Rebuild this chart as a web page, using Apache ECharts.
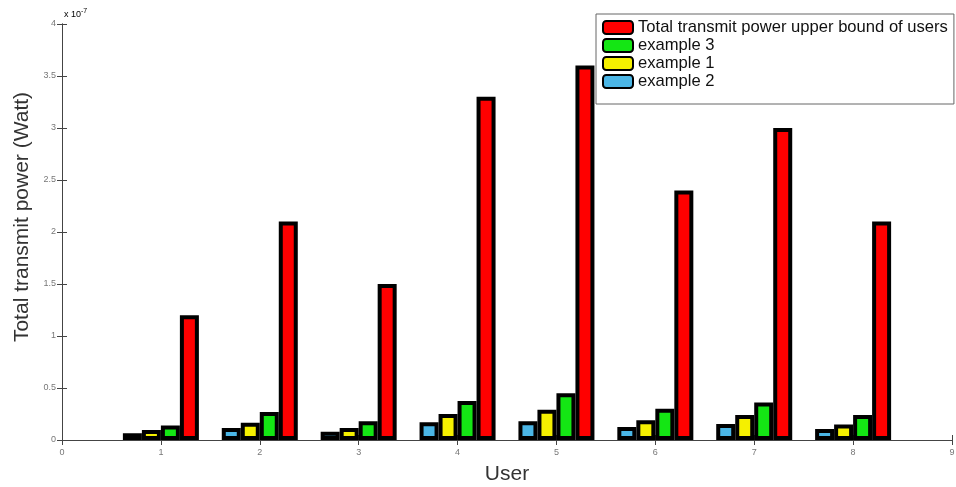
<!DOCTYPE html>
<html><head><meta charset="utf-8">
<script src="https://cdn.jsdelivr.net/npm/echarts@6/dist/echarts.min.js"></script>
<style>html,body{margin:0;padding:0;background:#fff}#c{width:956px;height:487px}</style>
</head><body><div id="c"></div>
<script>
// values in units of 1e-7 W
const users = [1, 2, 3, 4, 5, 6, 7, 8];
const example2 = [0.065, 0.115, 0.08, 0.17, 0.18, 0.125, 0.155, 0.105];
const example1 = [0.095, 0.165, 0.115, 0.25, 0.29, 0.19, 0.24, 0.15];
const example3 = [0.14, 0.27, 0.18, 0.375, 0.45, 0.30, 0.36, 0.24];
const upperBound = [1.2, 2.1, 1.5, 3.3, 3.6, 2.4, 3.0, 2.1];
const seriesNames = ['example 2', 'example 1', 'example 3', 'Total transmit power upper bound of users'];
const legendOrder = ['Total transmit power upper bound of users', 'example 3', 'example 1', 'example 2'];
const colors = ['#4bb6e6', '#f5f000', '#14e614', '#ff0000'];
const allSeries = [example2, example1, example3, upperBound];

const font = 'Liberation Sans, Arial, sans-serif';
const chart = echarts.init(document.getElementById('c'));
const axisLine = {lineStyle: {color: '#444', width: 1}};
const tick = {inside: true, length: 5, lineStyle: {color: '#444'}};
chart.setOption({
  animation: false,
  backgroundColor: '#fff',
  grid: {left: 62, right: 4, top: 24, bottom: 47, containLabel: false, outerBoundsMode: 'none'},
  legend: {
    data: legendOrder, orient: 'vertical', left: 596, top: 14,
    padding: [5, 6, 14, 6], itemGap: 1, itemWidth: 30, itemHeight: 13,
    backgroundColor: '#fff', borderColor: '#666', borderWidth: 1,
    textStyle: {fontFamily: font, fontSize: 16.6, color: '#111', lineHeight: 17}
  },
  xAxis: [{
    type: 'value', min: 0, max: 9, interval: 1, position: 'bottom',
    name: 'User', nameLocation: 'middle', nameGap: 24,
    nameTextStyle: {fontFamily: font, fontSize: 21, color: '#333'},
    axisLine: axisLine, axisTick: tick, splitLine: {show: false},
    axisLabel: {fontFamily: font, fontSize: 9, color: '#777', margin: 8}
  }, {
    type: 'value', min: 0, max: 9, interval: 1, position: 'top',
    axisLine: axisLine, axisTick: tick, splitLine: {show: false}, axisLabel: {show: false}
  }],
  yAxis: [{
    type: 'value', min: 0, max: 4, interval: 0.5, position: 'left',
    name: 'Total transmit power (Watt)', nameLocation: 'middle', nameGap: 25,
    nameTextStyle: {fontFamily: font, fontSize: 21, color: '#333', padding: [0, 0, 0, 30]},
    axisLine: axisLine, axisTick: tick, splitLine: {show: false},
    axisLabel: {fontFamily: font, fontSize: 9, color: '#777', margin: 6}
  }, {
    type: 'value', min: 0, max: 4, interval: 0.5, position: 'right',
    axisLine: axisLine, axisTick: tick, splitLine: {show: false}, axisLabel: {show: false}
  }],
  graphic: [{
    type: 'text', left: 64, top: 8,
    style: {text: '{a|x 10}{b|-7}', rich: {
      a: {fontFamily: font, fontSize: 9, color: '#777'},
      b: {fontFamily: font, fontSize: 7, color: '#777', verticalAlign: 'top', padding: [0, 0, 6, 0]}
    }}
  }],
  series: allSeries.map((vals, i) => ({
    name: seriesNames[i], type: 'bar', xAxisIndex: 0, yAxisIndex: 0,
    barWidth: 19, barGap: '0%',
    itemStyle: {color: colors[i], borderColor: '#000', borderWidth: 4},
    data: users.map((u, j) => [u, vals[j]])
  }))
});
</script></body></html>
